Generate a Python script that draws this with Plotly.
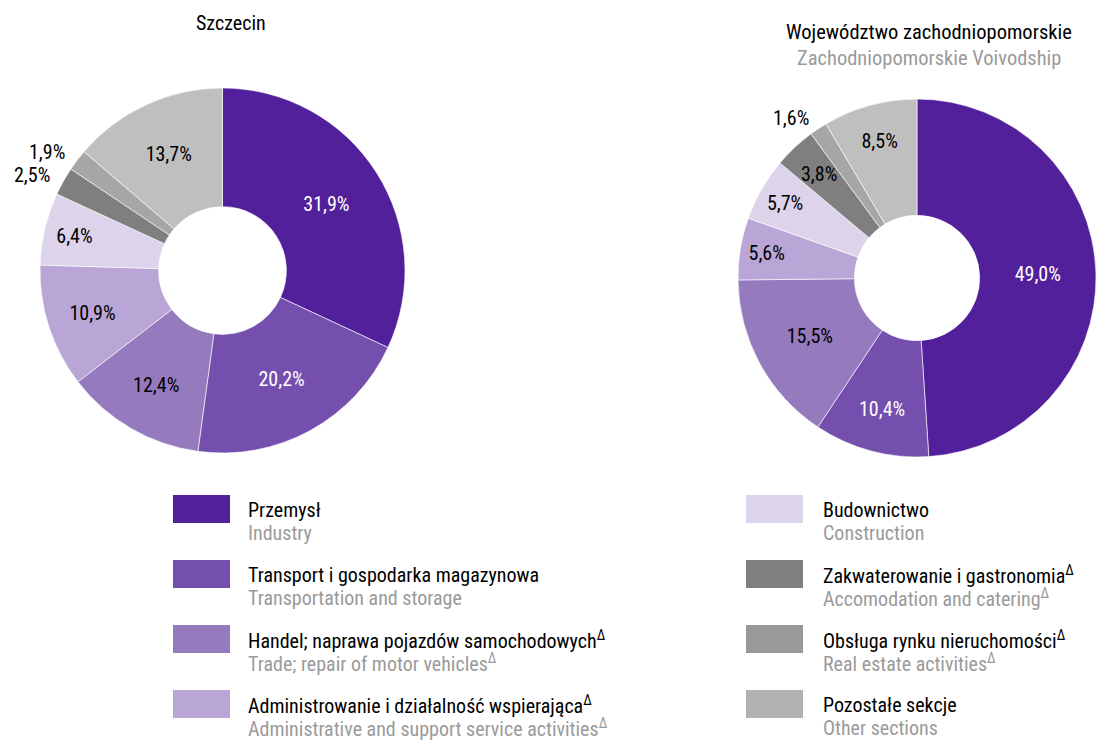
import math
import plotly.graph_objects as go

# ---- data ----
sectors_pl = ["Przemysł", "Transport i gospodarka magazynowa",
              "Handel; naprawa pojazdów samochodowych<sup>Δ</sup>",
              "Administrowanie i działalność wspierająca<sup>Δ</sup>",
              "Budownictwo", "Zakwaterowanie i gastronomia<sup>Δ</sup>",
              "Obsługa rynku nieruchomości<sup>Δ</sup>", "Pozostałe sekcje"]
sectors_en = ["Industry", "Transportation and storage",
              "Trade; repair of motor vehicles<sup>Δ</sup>",
              "Administrative and support service activities<sup>Δ</sup>",
              "Construction", "Accomodation and catering<sup>Δ</sup>",
              "Real estate activities<sup>Δ</sup>", "Other sections"]
szczecin = [31.9, 20.2, 12.4, 10.9, 6.4, 2.5, 1.9, 13.7]
wojewodztwo = [49.0, 10.4, 15.5, 5.6, 5.7, 3.8, 1.6, 8.5]
szczecin_labels = ["31,9%", "20,2%", "12,4%", "10,9%", "6,4%", "2,5%", "1,9%", "13,7%"]
wojewodztwo_labels = ["49,0%", "10,4%", "15,5%", "5,6%", "5,7%", "3,8%", "1,6%", "8,5%"]

colors = ["#52209A", "#754FAD", "#957ABE", "#B9A6D6", "#DDD3EB", "#7F7F7F", "#A6A6A6", "#BFBFBF"]
legend_colors = ["#52209A", "#754FAD", "#957ABE", "#B9A6D6", "#DDD3EB", "#7F7F7F", "#999999", "#B2B2B2"]

FONT = "Roboto Condensed, DejaVu Sans Condensed, sans-serif"
W, H = 1096, 740
GRAY = "#9A9A9A"

text_colors = ["white", "white", "black", "black", "black", "black", "black", "black"]
szc_outside = [5, 6]      # slices labelled outside the ring
woj_outside = [6]
szc_ring = []             # narrow slices labelled on the ring at full size
woj_ring = [5]

fig = go.Figure()

def px_dom(x0, x1, y0, y1):
    return dict(x=[x0 / W, x1 / W], y=[1 - y1 / H, 1 - y0 / H])

pies = [
    (szczecin, szczecin_labels, szc_outside, szc_ring, (40, 405, 88, 453)),
    (wojewodztwo, wojewodztwo_labels, woj_outside, woj_ring, (738, 1096, 99, 457)),
]
annotations = []
for values, labels, outside, ring, (x0, x1, y0, y1) in pies:
    pos = ["none" if (i in outside or i in ring) else "inside" for i in range(len(values))]
    fig.add_trace(go.Pie(
        values=values, text=labels, textinfo="text",
        textposition=pos, insidetextorientation="horizontal",
        sort=False, direction="clockwise", rotation=0, hole=0.35,
        marker=dict(colors=colors, line=dict(color="white", width=0.6)),
        textfont=dict(family=FONT, size=20, color=text_colors),
        domain=px_dom(x0, x1, y0, y1), showlegend=False, hoverinfo="skip",
    ))
    cx, cy = (x0 + x1) / 2, (y0 + y1) / 2
    r = min(x1 - x0, y1 - y0) / 2
    total = sum(values)
    cum = 0
    for i, v in enumerate(values):
        mid = 2 * math.pi * (cum + v / 2) / total
        cum += v
        if i in outside:
            lx = cx + math.sin(mid) * (r + 13)
            ly = cy - math.cos(mid) * (r + 13)
            annotations.append(dict(text=labels[i], x=lx / W, y=1 - ly / H, showarrow=False,
                                    xanchor="right", yanchor="middle",
                                    font=dict(family=FONT, size=20, color="black")))
        elif i in ring:
            lx = cx + math.sin(mid) * r * 0.8
            ly = cy - math.cos(mid) * r * 0.8
            annotations.append(dict(text=labels[i], x=lx / W, y=1 - ly / H, showarrow=False,
                                    xanchor="center", yanchor="middle",
                                    font=dict(family=FONT, size=20, color=text_colors[i])))

annotations += [
    dict(text="Szczecin", x=231 / W, y=1 - 23 / H, showarrow=False,
         xanchor="center", yanchor="middle", font=dict(family=FONT, size=20, color="black")),
    dict(text="Województwo zachodniopomorskie", x=929 / W, y=1 - 32 / H, showarrow=False,
         xanchor="center", yanchor="middle", font=dict(family=FONT, size=20.5, color="black")),
    dict(text="Zachodniopomorskie Voivodship", x=929 / W, y=1 - 58 / H, showarrow=False,
         xanchor="center", yanchor="middle", font=dict(family=FONT, size=20.5, color=GRAY)),
]
shapes = []
row_tops = [495, 560, 625, 690]
cols = [(173, 247), (746, 822)]
for i in range(8):
    c, rr = divmod(i, 4)
    sx, tx = cols[c]
    top = row_tops[rr]
    shapes.append(dict(type="rect", xref="paper", yref="paper",
                       x0=sx / W, x1=(sx + 57) / W, y0=1 - (top + 28) / H, y1=1 - top / H,
                       fillcolor=legend_colors[i], line=dict(width=0)))
    annotations.append(dict(text=sectors_pl[i], x=tx / W, y=1 - (top + 15) / H, showarrow=False,
                            xanchor="left", yanchor="middle", borderpad=0,
                            font=dict(family=FONT, size=20, color="black")))
    annotations.append(dict(text=sectors_en[i], x=tx / W, y=1 - (top + 38) / H, showarrow=False,
                            xanchor="left", yanchor="middle", borderpad=0,
                            font=dict(family=FONT, size=20, color=GRAY)))

fig.update_layout(
    width=W, height=H, margin=dict(l=0, r=0, t=0, b=0),
    paper_bgcolor="white", plot_bgcolor="white",
    annotations=annotations, shapes=shapes,
)

fig.write_html("out.html", config={"displayModeBar": False},
               post_script="document.body.style.margin='0';document.body.style.overflow='hidden';")
